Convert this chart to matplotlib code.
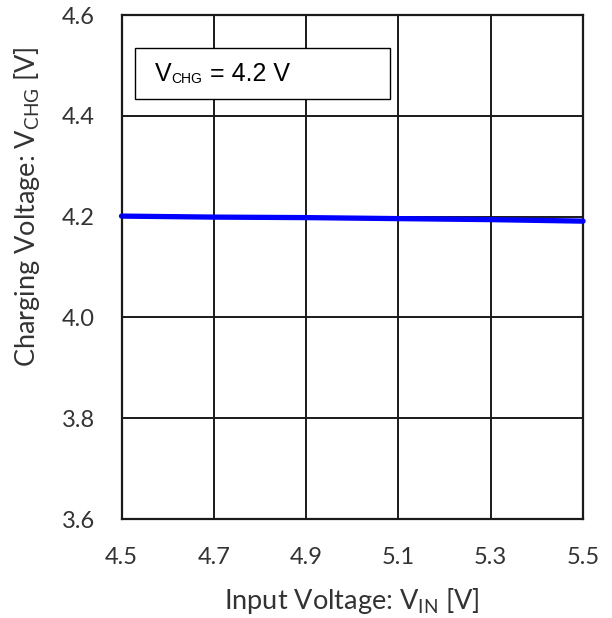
import numpy as np
import matplotlib
matplotlib.use("Agg")
import matplotlib.pyplot as plt
from matplotlib.patches import Rectangle

# data
vin = [4.5, 4.7, 4.9, 5.1, 5.3, 5.5]
vchg = [4.201, 4.199, 4.198, 4.196, 4.194, 4.191]
xticks = [4.5, 4.7, 4.9, 5.1, 5.3, 5.5]
yticks = [3.6, 3.8, 4.0, 4.2, 4.4, 4.6]

plt.rcParams['font.family'] = ['Lato', 'DejaVu Sans']
plt.rcParams['mathtext.fontset'] = 'custom'
plt.rcParams['mathtext.rm'] = 'Lato'
plt.rcParams['mathtext.it'] = 'Lato:italic'
plt.rcParams['mathtext.bf'] = 'Lato:bold'

W, H = 612, 618
fig = plt.figure(figsize=(W/100, H/100), dpi=100)
left, right, top, bottom = 121.5, 583, 15, 519
ax = fig.add_axes([left/W, (H-bottom)/H, (right-left)/W, (bottom-top)/H])

gridc = '#1a1a1a'
txtc = '#333333'
ax.set_xlim(4.5, 5.5)
ax.set_ylim(3.6, 4.6)
ax.set_xticks(xticks)
ax.set_yticks(yticks)
ax.set_xticklabels([f"{v:.1f}" for v in xticks])
ax.set_yticklabels([f"{v:.1f}" for v in yticks])
ax.grid(True, color=gridc, linewidth=1.4)
ax.set_axisbelow(True)
for s in ax.spines.values():
    s.set_color(gridc)
    s.set_linewidth(1.6)
ax.tick_params(length=0, labelsize=17, colors=txtc, pad=19)
ax.tick_params(axis='x', pad=20)

ax.plot(vin, vchg, color='#0000ff', linewidth=3.8, solid_capstyle='round',
        clip_on=False, zorder=3)

ax.set_xlabel(r'Input Voltage: V$_{\mathrm{IN}}$ [V]', fontsize=19.5, color=txtc)
ax.set_ylabel(r'Charging Voltage: V$_{\mathrm{CHG}}$ [V]', fontsize=19.5, color=txtc)
ax.xaxis.set_label_coords(0.5, -0.132)
ax.yaxis.set_label_coords(-0.172, 0.619)

# annotation box
box = Rectangle((0.0293, 0.8333), 0.5526, 0.1012, transform=ax.transAxes,
                facecolor='white', edgecolor='black', linewidth=1.0, zorder=4)
ax.add_patch(box)
t1 = ax.text(0.0726, 0.8696, 'V', transform=ax.transAxes, fontsize=18,
             family='Liberation Sans', va='baseline', zorder=5)
t2 = ax.annotate('CHG', xy=(1, 0), xycoords=t1, fontsize=10,
                 family='Liberation Sans', va='bottom', zorder=5)
ax.annotate(' = 4.2 V', xy=(1, 0), xycoords=t2, fontsize=18,
            family='Liberation Sans', va='bottom', zorder=5)

fig.savefig('out.png', dpi=100)
